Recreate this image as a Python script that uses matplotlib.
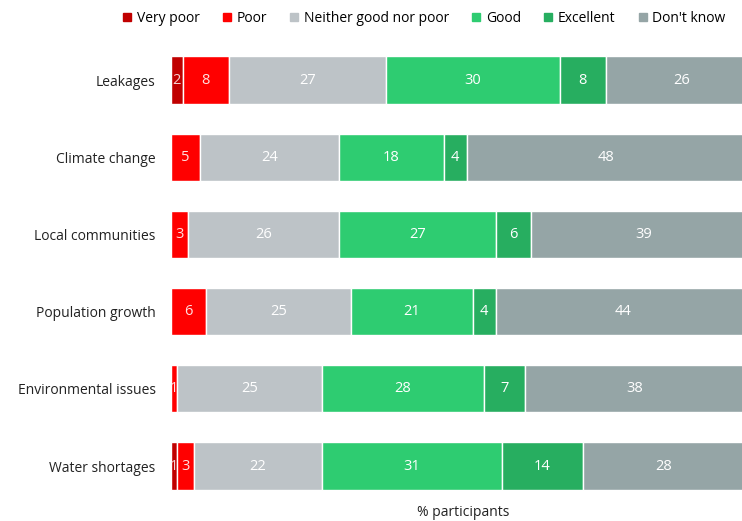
import matplotlib
matplotlib.use("Agg")
import matplotlib.pyplot as plt
from matplotlib.lines import Line2D
import numpy as np

categories = ["Leakages", "Climate change", "Local communities",
              "Population growth", "Environmental issues", "Water shortages"]
series_names = ["Very poor", "Poor", "Neither good nor poor", "Good",
                "Excellent", "Don't know"]
very_poor = [2, 0, 0, 0, 0, 1]
poor = [8, 5, 3, 6, 1, 3]
neither = [27, 24, 26, 25, 25, 22]
good = [30, 18, 27, 21, 28, 31]
excellent = [8, 4, 6, 4, 7, 14]
dont_know = [26, 48, 39, 44, 38, 28]

colors = ["#C00000", "#FF0000", "#BDC3C7", "#2ECC71", "#27AE60", "#95A5A6"]
label_colors = ["#F5D0D0", "#FFE0E0", "white", "white", "white", "white"]

plt.rcParams["font.family"] = ["Open Sans", "DejaVu Sans"]

fig = plt.figure(figsize=(7.42, 5.21), dpi=100)
W, H = 742, 521
left_px, right_px = 171, 742
top_px, bot_px = 41.4, 504.6
ax = fig.add_axes([left_px / W, 1 - bot_px / H, (right_px - left_px) / W,
                   (bot_px - top_px) / H])

data = [very_poor, poor, neither, good, excellent, dont_know]
y = np.arange(len(categories))
left = np.zeros(len(categories))
for vals, col, lc, name in zip(data, colors, label_colors, series_names):
    vals = np.array(vals, dtype=float)
    ax.barh(y, vals, left=left, height=0.61, color=col,
            edgecolor="white", linewidth=1, label=name)
    for yi, (l, v) in enumerate(zip(left, vals)):
        if v > 0:
            ax.text(l + v / 2, yi, f"{int(v)}", ha="center", va="center",
                    color=lc, fontsize=10.5)
    left += vals

ax.set_xlim(0, (right_px - left_px) / 5.8)
ax.set_ylim(len(categories) - 0.5, -0.5)
ax.set_yticks(y)
ax.set_yticklabels(categories, fontsize=10, color="#222222")
ax.tick_params(axis="y", length=0, pad=11)
ax.set_xticks([])
for s in ax.spines.values():
    s.set_visible(False)

fig.text(463 / W, 1 - 513 / H, "% participants", ha="center", va="center",
         fontsize=10, color="#222222")

handles = [Line2D([], [], marker="s", linestyle="", markersize=6,
                  markerfacecolor=c, markeredgecolor=c) for c in colors]
fig.legend(handles, series_names, loc="center", ncol=6,
           bbox_to_anchor=(423 / W, 1 - 18 / H), frameon=False,
           fontsize=10, handletextpad=0.2, columnspacing=1.45,
           handlelength=1.0)

fig.savefig("out.png", dpi=100)
